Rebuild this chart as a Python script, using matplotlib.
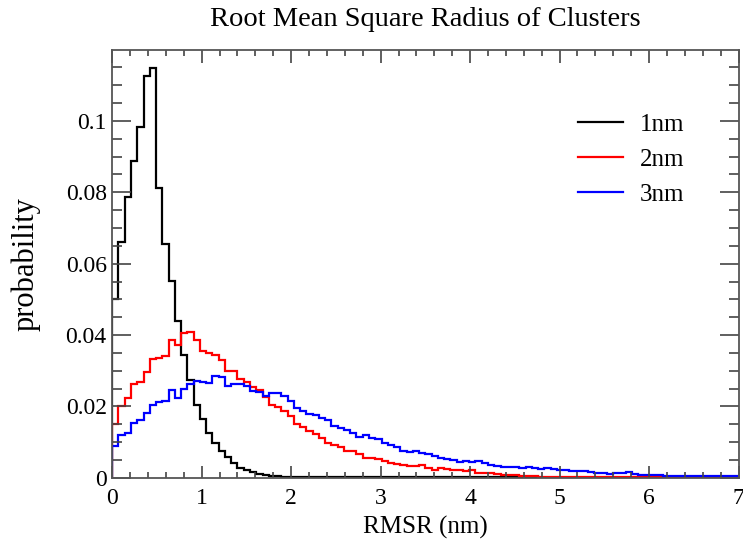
import numpy as np
import matplotlib
matplotlib.use("Agg")
import matplotlib.pyplot as plt
from matplotlib.ticker import MultipleLocator, FuncFormatter

# Histogram bins: 100 bins of 0.07 nm between 0 and 7 nm
bin_edges = np.linspace(0, 7, 101)

# Probability per bin for each cluster size
prob_1nm = [
    0.0502, 0.0661, 0.0788, 0.0889, 0.0982, 0.1126, 0.1148, 0.0811, 0.0654, 0.0551,
    0.0439, 0.0343, 0.0275, 0.0205, 0.0165, 0.0126, 0.0097, 0.0074, 0.0058, 0.0041,
    0.0027, 0.0021, 0.0016, 0.0012, 0.0009, 0.0006, 0.0004, 0.0003, 0.0002, 0.0002,
    0.0001, 0.0001, 0.0001, 0.0001, 0.0001, 0.0001, 0.0001, 0.0001, 0.0001, 0.0001,
    0.0001, 0.0001, 0.0001, 0.0001, 0.0001, 0.0001, 0.0001, 0.0001, 0.0001, 0.0001,
    0.0001, 0.0001, 0.0001, 0.0001, 0.0001, 0.0001, 0.0001, 0.0001, 0.0001, 0.0001,
    0.0001, 0.0001, 0.0001, 0.0001, 0.0001, 0.0001, 0.0001, 0.0001, 0.0, 0.0,
    0.0, 0.0, 0.0, 0.0, 0.0, 0.0, 0.0, 0.0, 0.0, 0.0,
    0.0, 0.0, 0.0, 0.0, 0.0, 0.0, 0.0, 0.0, 0.0, 0.0,
    0.0, 0.0, 0.0, 0.0, 0.0, 0.0, 0.0, 0.0, 0.0, 0.0,
]
prob_2nm = [
    0.0152, 0.0200, 0.0224, 0.0264, 0.0268, 0.0296, 0.0333, 0.0336, 0.0341, 0.0386,
    0.0371, 0.0406, 0.0408, 0.0386, 0.0355, 0.0350, 0.0345, 0.0329, 0.0299, 0.0299,
    0.0277, 0.0268, 0.0255, 0.0247, 0.0226, 0.0205, 0.0199, 0.0186, 0.0172, 0.0152,
    0.0142, 0.0132, 0.0124, 0.0111, 0.0097, 0.0093, 0.0086, 0.0074, 0.0074, 0.0067,
    0.0055, 0.0057, 0.0052, 0.0046, 0.0041, 0.0038, 0.0035, 0.0034, 0.0032, 0.0035,
    0.0027, 0.0021, 0.0027, 0.0024, 0.0022, 0.0021, 0.0018, 0.0022, 0.0015, 0.0015,
    0.0013, 0.0012, 0.0009, 0.0008, 0.0008, 0.0006, 0.0005, 0.0004, 0.0003, 0.0002,
    0.0002, 0.0002, 0.0002, 0.0001, 0.0001, 0.0001, 0.0001, 0.0001, 0.0001, 0.0001,
    0.0001, 0.0001, 0.0001, 0.0001, 0.0001, 0.0001, 0.0001, 0.0001, 0.0001, 0.0001,
    0.0001, 0.0001, 0.0001, 0.0001, 0.0001, 0.0001, 0.0001, 0.0001, 0.0001, 0.0001,
]
prob_3nm = [
    0.0088, 0.0121, 0.0127, 0.0155, 0.0161, 0.0182, 0.0205, 0.0212, 0.0214, 0.0245,
    0.0224, 0.0249, 0.0264, 0.0271, 0.0268, 0.0265, 0.0285, 0.0283, 0.0257, 0.0264,
    0.0264, 0.0257, 0.0244, 0.0240, 0.0230, 0.0238, 0.0238, 0.0228, 0.0214, 0.0196,
    0.0186, 0.0180, 0.0177, 0.0168, 0.0163, 0.0146, 0.0140, 0.0135, 0.0125, 0.0114,
    0.0121, 0.0111, 0.0109, 0.0097, 0.0093, 0.0086, 0.0074, 0.0073, 0.0074, 0.0071,
    0.0067, 0.0060, 0.0055, 0.0052, 0.0051, 0.0044, 0.0048, 0.0044, 0.0046, 0.0041,
    0.0037, 0.0032, 0.0030, 0.0030, 0.0030, 0.0029, 0.0031, 0.0029, 0.0026, 0.0027,
    0.0024, 0.0022, 0.0021, 0.0020, 0.0018, 0.0018, 0.0016, 0.0015, 0.0013, 0.0011,
    0.0013, 0.0015, 0.0017, 0.0010, 0.0008, 0.0007, 0.0008, 0.0007, 0.0006, 0.0006,
    0.0005, 0.0005, 0.0004, 0.0005, 0.0004, 0.0004, 0.0006, 0.0005, 0.0005, 0.0005,
]

series_labels = ["1nm", "2nm", "3nm"]
series_colors = ["black", "red", "blue"]

plt.rcParams["font.family"] = ["Liberation Serif", "DejaVu Serif"]

fig = plt.figure(figsize=(7.43, 5.48), dpi=100)
ax = fig.add_axes([0.151, 0.128, 0.843, 0.781])

for values, label, color in zip([prob_1nm, prob_2nm, prob_3nm], series_labels, series_colors):
    ax.stairs(values, bin_edges, color=color, linewidth=1.6, label=label)

# top limit just under 0.12 so that tick is not labelled
ax.set_xlim(0, 7)
ax.set_ylim(0, 0.1199)

ax.xaxis.set_major_locator(MultipleLocator(1))
ax.xaxis.set_minor_locator(MultipleLocator(0.2))
ax.yaxis.set_major_locator(MultipleLocator(0.02))
ax.yaxis.set_minor_locator(MultipleLocator(0.005))
ax.yaxis.set_major_formatter(FuncFormatter(lambda v, pos: f"{v:g}"))

ax.tick_params(which="both", direction="in", top=True, right=True,
               color="#444444", width=1.2, labelsize=17)
ax.tick_params(axis="x", which="major", length=9, pad=7)
ax.tick_params(axis="x", which="minor", length=4.5)
ax.tick_params(axis="y", which="major", length=14, pad=4)
ax.tick_params(axis="y", which="minor", length=7)
for spine in ax.spines.values():
    spine.set_color("#555555")
    spine.set_linewidth(1.3)

ax.set_xlabel("RMSR (nm)", fontsize=18, labelpad=5)
ax.set_ylabel("probability", fontsize=22, labelpad=18)
ax.set_title("Root Mean Square Radius of Clusters", fontsize=20.5, pad=17)

ax.legend(loc="upper left", bbox_to_anchor=(0.743, 0.852), frameon=False,
          fontsize=18, handlelength=1.8, handletextpad=0.7, labelspacing=0.5,
          borderpad=0, borderaxespad=0)

fig.savefig("out.png", dpi=100)
